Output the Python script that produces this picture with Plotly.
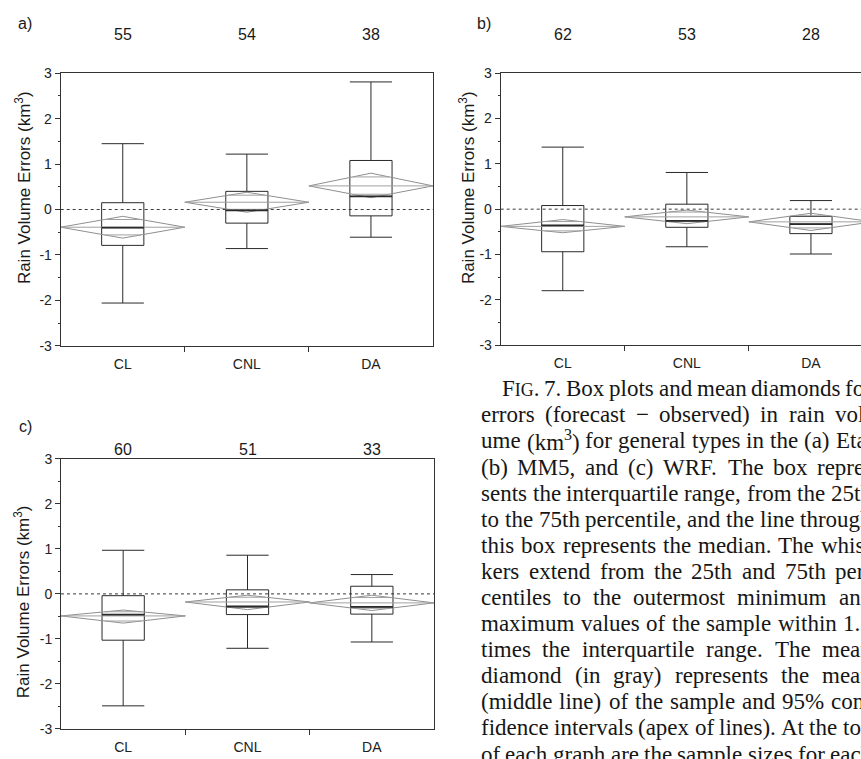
import math
import plotly.graph_objects as go

W, H = 861, 759

categories = ["CL", "CNL", "DA"]

# (a) Eta
eta_n = [55, 54, 38]
eta_low = [-2.06, -0.86, -0.61]
eta_q1 = [-0.79, -0.30, -0.14]
eta_median = [-0.40, -0.02, 0.29]
eta_q3 = [0.15, 0.40, 1.08]
eta_high = [1.45, 1.22, 2.81]
eta_mean = [-0.39, 0.16, 0.52]
eta_ci_low = [-0.63, -0.06, 0.26]
eta_ci_high = [-0.15, 0.38, 0.80]

# (b) MM5
mm5_n = [62, 53, 28]
mm5_low = [-1.80, -0.83, -0.99]
mm5_q1 = [-0.94, -0.40, -0.54]
mm5_median = [-0.36, -0.26, -0.33]
mm5_q3 = [0.08, 0.11, -0.16]
mm5_high = [1.37, 0.81, 0.19]
mm5_mean = [-0.38, -0.17, -0.28]
mm5_ci_low = [-0.52, -0.32, -0.47]
mm5_ci_high = [-0.23, -0.02, -0.09]

# (c) WRF
wrf_n = [60, 51, 33]
wrf_low = [-2.49, -1.21, -1.07]
wrf_q1 = [-1.03, -0.46, -0.45]
wrf_median = [-0.46, -0.28, -0.29]
wrf_q3 = [-0.04, 0.09, 0.17]
wrf_high = [0.97, 0.86, 0.43]
wrf_mean = [-0.49, -0.18, -0.20]
wrf_ci_low = [-0.65, -0.35, -0.37]
wrf_ci_high = [-0.36, -0.03, -0.03]

y_ticks = [-3, -2, -1, 0, 1, 2, 3]
y_tick_text = ["-3", "-2", "-1", "0", "1", "2", "3"]

caption_lines = [
    "F{IG}. 7. Box plots and mean diamonds for",
    "errors (forecast − observed) in rain vol-",
    "ume (km^3) for general types in the (a) Eta,",
    "(b) MM5, and (c) WRF. The box repre-",
    "sents the interquartile range, from the 25th",
    "to the 75th percentile, and the line through",
    "this box represents the median. The whis-",
    "kers extend from the 25th and 75th per-",
    "centiles to the outermost minimum and",
    "maximum values of the sample within 1.5",
    "times the interquartile range. The mean",
    "diamond (in gray) represents the mean",
    "(middle line) of the sample and 95% con-",
    "fidence intervals (apex of lines). At the top",
    "of each graph are the sample sizes for each",
]

SANS = "Liberation Sans, Arial, sans-serif"
SERIF = "Liberation Serif, Times New Roman, serif"
AX = "#333333"
BOX = "#2a2a2a"
DIAM = "#8f8f8f"


def px_x(p):
    return p / W


def px_y(p):
    return 1 - p / H


# panel frames in pixels: left, right, top, bottom
panels = [
    dict(key="a", left=60.7, right=433.0, top=66.7, bottom=345.0, full=True,
         n=eta_n, low=eta_low, q1=eta_q1, med=eta_median, q3=eta_q3, high=eta_high,
         mean=eta_mean, cil=eta_ci_low, cih=eta_ci_high,
         count_y=27, letter=(25, 16), title=(23, 184)),
    dict(key="b", left=500.7, right=861.0, top=66.7, bottom=344.3, full=False,
         n=mm5_n, low=mm5_low, q1=mm5_q1, med=mm5_median, q3=mm5_q3, high=mm5_high,
         mean=mm5_mean, cil=mm5_ci_low, cih=mm5_ci_high,
         count_y=27, letter=(484, 16), title=(467, 184)),
    dict(key="c", left=61.0, right=434.0, top=460.7, bottom=736.3, full=True,
         n=wrf_n, low=wrf_low, q1=wrf_q1, med=wrf_median, q3=wrf_q3, high=wrf_high,
         mean=wrf_mean, cil=wrf_ci_low, cih=wrf_ci_high,
         count_y=451, letter=(25, 428), title=(22, 607)),
]

full_width = panels[0]["right"] - panels[0]["left"]
BOX_W = 0.34
pos = list(range(len(categories)))

fig = go.Figure()
layout = dict(
    width=W, height=H, autosize=False,
    margin=dict(l=0, r=0, t=0, b=0),
    paper_bgcolor="white", plot_bgcolor="white",
    showlegend=False, boxmode="overlay",
)
annotations = []
shapes = []

for k, p in enumerate(panels):
    sfx = "" if k == 0 else str(k + 1)
    xa, ya = "x" + sfx, "y" + sfx

    # x range: panel (b) runs off the right edge of the page
    width_px = p["right"] - p["left"]
    x_hi = -0.5 + 3 * width_px / full_width if not p["full"] else 2.5

    layout["xaxis" + sfx] = dict(
        domain=[px_x(p["left"]), px_x(p["right"])], anchor=ya,
        range=[-0.5, x_hi], tickvals=pos, ticktext=categories,
        ticks="outside", ticklen=5, tickcolor="rgba(0,0,0,0)",
        showline=True, linecolor=AX, linewidth=1, mirror=True,
        showgrid=False, zeroline=False, fixedrange=True,
        tickfont=dict(family=SANS, size=14, color="#222"),
        minor=dict(tickvals=[0.5, 1.5], ticks="outside", ticklen=5,
                   tickcolor=AX, tickwidth=1, showgrid=False),
    )
    layout["yaxis" + sfx] = dict(
        domain=[px_y(p["bottom"]), px_y(p["top"])], anchor=xa,
        range=[-3, 3], tickvals=y_ticks, ticktext=y_tick_text,
        ticks="outside", ticklen=5, tickcolor=AX, tickwidth=1,
        showline=True, linecolor=AX, linewidth=1, mirror=p["full"],
        showgrid=False, zeroline=False, fixedrange=True,
        tickfont=dict(family=SANS, size=14, color="#222"),
        minor=dict(tickvals=[v + 0.5 for v in y_ticks[:-1]], ticks="outside",
                   ticklen=2, tickcolor=AX, tickwidth=1, showgrid=False),
    )

    # dotted zero reference line
    shapes.append(dict(type="line", xref=xa + " domain", yref=ya, x0=0, x1=1, y0=0, y1=0,
                       line=dict(color="#3a3a3a", width=1, dash="dot"), layer="below"))

    # mean diamonds: outline, mean line, and overlap marks
    dx, dy, mx, my = [], [], [], []
    for i in pos:
        m, lo, hi = p["mean"][i], p["cil"][i], p["cih"][i]
        dx += [i - 0.5, i, i + 0.5, i, i - 0.5, None]
        dy += [m, hi, m, lo, m, None]
        mx += [i - 0.5, i + 0.5, None]
        my += [m, m, None]
        frac = 0.5 * (1 - 1 / math.sqrt(2))
        for edge in (hi, lo):
            yv = m + (edge - m) / math.sqrt(2)
            mx += [i - frac, i + frac, None]
            my += [yv, yv, None]
    fig.add_trace(go.Scatter(x=dx, y=dy, mode="lines", xaxis=xa, yaxis=ya,
                             line=dict(color=DIAM, width=1), hoverinfo="skip"))
    fig.add_trace(go.Scatter(x=mx, y=my, mode="lines", xaxis=xa, yaxis=ya,
                             line=dict(color="#a0a0a0", width=1), hoverinfo="skip"))

    # box plots from the summary statistics
    fig.add_trace(go.Box(
        x=pos, q1=p["q1"], median=p["med"], q3=p["q3"],
        lowerfence=p["low"], upperfence=p["high"],
        width=BOX_W, whiskerwidth=1, boxpoints=False,
        line=dict(color=BOX, width=1), fillcolor="rgba(0,0,0,0)",
        xaxis=xa, yaxis=ya, hoverinfo="skip",
    ))
    # heavier median stroke
    medx, medy = [], []
    for i in pos:
        medx += [i - BOX_W / 2, i + BOX_W / 2, None]
        medy += [p["med"][i], p["med"][i], None]
    fig.add_trace(go.Scatter(x=medx, y=medy, mode="lines", xaxis=xa, yaxis=ya,
                             line=dict(color="#2a2a2a", width=1.8), hoverinfo="skip"))

    # sample sizes above each category
    for i in pos:
        annotations.append(dict(x=i, xref=xa, y=px_y(p["count_y"]), yref="paper",
                                text=str(p["n"][i]), showarrow=False,
                                xanchor="center", yanchor="middle",
                                font=dict(family=SANS, size=16, color="#1a1a1a")))
    # panel letter
    lx, ly = p["letter"]
    annotations.append(dict(x=px_x(lx), y=px_y(ly), xref="paper", yref="paper",
                            text=p["key"] + ")", showarrow=False,
                            xanchor="center", yanchor="middle",
                            font=dict(family=SANS, size=16, color="#1a1a1a")))
    # y-axis title
    tx, ty = p["title"]
    annotations.append(dict(x=px_x(tx), y=px_y(ty), xref="paper", yref="paper",
                            text="Rain Volume Errors (km<sup>3</sup>)", textangle=-90,
                            showarrow=False, xanchor="center", yanchor="middle",
                            font=dict(family=SANS, size=17, color="#1a1a1a")))

# ---- caption, justified word by word (Times advance widths, 1/1000 em)
TIMES = {' ': 250, 'a': 444, 'b': 500, 'c': 444, 'd': 500, 'e': 444, 'f': 333, 'g': 500,
         'h': 500, 'i': 278, 'j': 278, 'k': 500, 'l': 278, 'm': 778, 'n': 500, 'o': 500,
         'p': 500, 'q': 500, 'r': 333, 's': 389, 't': 278, 'u': 500, 'v': 500, 'w': 722,
         'x': 500, 'y': 500, 'z': 444, 'A': 722, 'B': 667, 'C': 667, 'D': 722, 'E': 611,
         'F': 556, 'G': 722, 'H': 722, 'I': 333, 'J': 389, 'K': 722, 'L': 611, 'M': 889,
         'N': 722, 'O': 722, 'P': 556, 'Q': 722, 'R': 667, 'S': 556, 'T': 611, 'U': 722,
         'V': 722, 'W': 944, 'X': 722, 'Y': 722, 'Z': 611, '.': 250, ',': 250, '(': 333,
         ')': 333, '-': 333, '%': 833, '−': 564, ':': 278, ';': 278}
for d in "0123456789":
    TIMES[d] = 500

CAP_SIZE = 23
SC_SCALE = 0.78


def render_word(word, size):
    html, units, i, sc = [], 0.0, 0, False
    while i < len(word):
        c = word[i]
        if c == "{":
            sc = True
            html.append('<span style="font-size:%.1fpx">' % (size * SC_SCALE))
        elif c == "}":
            sc = False
            html.append("</span>")
        elif c == "^":
            html.append("<sup>%s</sup>" % word[i + 1])
            units += TIMES.get(word[i + 1], 500) * 0.7
            i += 1
        else:
            html.append(c)
            units += TIMES.get(c, 500) * (SC_SCALE if sc else 1)
        i += 1
    return "".join(html), units * size / 1000.0


col_left, col_right, indent = 481.0, 872.0, 21.0
line0, line_step = 389.0, 26.65
for li, line in enumerate(caption_lines):
    words = [render_word(w, CAP_SIZE) for w in line.split(" ")]
    x0 = col_left + (indent if li == 0 else 0)
    total = sum(w for _, w in words)
    gap = (col_right - x0 - total) / (len(words) - 1)
    x = x0
    yc = line0 + li * line_step
    for html, w in words:
        if x < W:  # words past the page edge are not drawn
            annotations.append(dict(x=px_x(x), y=px_y(yc), xref="paper", yref="paper",
                                    text=html, showarrow=False, xanchor="left",
                                    yanchor="middle", borderpad=0, borderwidth=0,
                                    font=dict(family=SERIF, size=CAP_SIZE, color="#161616")))
        x += w + gap

layout["annotations"] = annotations
layout["shapes"] = shapes
fig.update_layout(**layout)
fig.write_html("out.html")
